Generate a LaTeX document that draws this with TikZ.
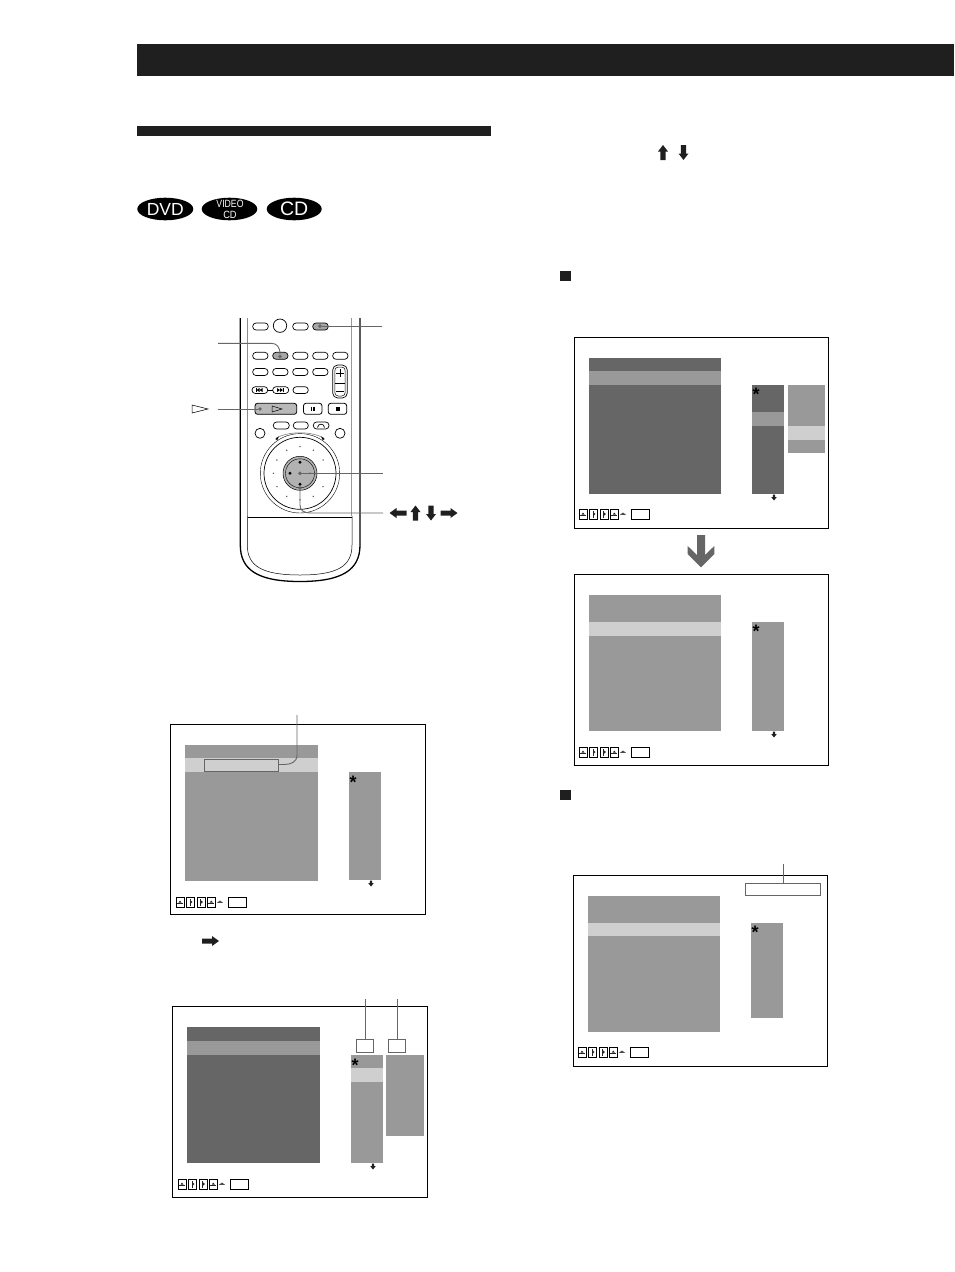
\documentclass[tikz,border=0pt]{standalone}
\usepackage{fontspec}
\usepackage{graphicx}
\setmainfont{Liberation Sans}
\begin{document}
\begin{tikzpicture}[x=1pt,y=-1pt,
  btn/.style={draw=black,line width=.7pt,fill=white,rounded corners=3.3pt},
  keybox/.style={draw=black,line width=.8pt,fill=white,rounded corners=2.5pt},
  leader/.style={draw=black!60,line width=.9pt},
  dotm/.style={circle,fill=black!60,inner sep=1.4pt},
  frm/.style={draw=black,line width=1pt,fill=white},
  smbox/.style={draw=black,line width=.7pt,fill=white},
  tiny/.style={circle,fill=black!70,inner sep=.55pt},
  asterisk/.style={font=\bfseries\fontsize{18}{18}\selectfont,inner sep=0,anchor=base},
  callbox/.style={draw=black!60,line width=1pt,fill=white,inner sep=0}]
\useasboundingbox (0,0) rectangle (954,1272);
\fill[black!88] (137,44) rectangle (954,76);
\fill[black!88] (137,126) rectangle (491,136);
% discs
\fill[black] (165.3,209) ellipse (28 and 11.3);
\node[text=white,font=\fontsize{17.5}{17.5}\selectfont,inner sep=0] (d1) at (165.3,209) {DVD};
\fill[black] (229.5,209) ellipse (27.8 and 11.3);
\node[text=white,font=\fontsize{10.5}{11}\selectfont,align=center,inner sep=0] (d2) at (230,209.5) {\scalebox{.83}[1]{VIDEO}\\\scalebox{.88}[1]{CD}};
\fill[black] (294.2,209) ellipse (27.5 and 11.3);
\node[text=white,font=\fontsize{19.5}{19.5}\selectfont,inner sep=0] (d3) at (294.2,209) {CD};
% remote body
\draw[line width=1.3pt] (240.3,318) -- (240.3,545) .. controls (240.3,570) and (258,581.5) .. (300,581.5) .. controls (342,581.5) and (360,570) .. (360,545) -- (360,318);
\draw[black!45,line width=.5pt] (247.3,318) -- (247.3,516);
\draw[line width=.5pt] (247.3,516) -- (247.3,545) .. controls (247.3,566) and (262,575) .. (300,575) .. controls (338,575) and (352,566) .. (352,545) -- (352,516);
\draw[black!40,line width=.6pt] (351.7,318) -- (351.7,516);
\draw[line width=.8pt] (247.5,517) -- (352,517);
% buttons row 1
\draw[btn] (252.7,323) rectangle (268.3,330);
\draw[btn] (280,325.7) circle (6.7);
\draw[btn] (292.7,323) rectangle (308.3,330);
\draw[btn,fill=black!35] (312.7,323) rectangle (328.3,330);
% row 2
\foreach \a/\f in {252.7/white,272.7/black!35,292.7/white,312.7/white,332.7/white}
  \draw[btn,fill=\f] (\a,352.3) rectangle +(15.3,7);
% row 3
\foreach \a in {252.7,272.7,292.7,312.7}
  \draw[btn] (\a,368.5) rectangle +(15.3,7);
\draw[btn,rounded corners=5pt] (332.7,365) rectangle (347.3,398);
\draw[line width=.5pt,rounded corners=3.5pt] (334.8,367) rectangle (345.2,396);
\draw[line width=.6pt] (334.8,383) -- (345.2,383);
\draw[line width=.9pt] (336,373) -- (344,373) (340,369) -- (340,377);
\draw[line width=.9pt] (336,391) -- (344,391);
% row 4
\draw[btn] (252,386.7) rectangle (267.7,393.5);
\draw[btn] (272.7,386.7) rectangle (288.7,393.5);
\draw[btn] (293,386.7) rectangle (308.3,393.5);
\draw[line width=.6pt] (267.7,390) -- (272.7,390);
\fill (256.5,390) -- +(3,-2) -- +(3,2) -- cycle; \fill (259.5,390) -- +(3,-2) -- +(3,2) -- cycle;
\fill (256,388) rectangle (256.8,392);
\fill (277,388) -- +(3,2) -- +(0,4) -- cycle; \fill (280,388) -- +(3,2) -- +(0,4) -- cycle;
\fill (283,388) rectangle (283.8,392);
% play row
\draw[keybox,fill=black!28] (255,403.3) rectangle (296.7,414.3);
\draw[line width=.5pt] (272,406) -- (282,409) -- (272,412) -- cycle;
\draw[keybox] (303.5,403.3) rectangle (322,414.3);
\draw[keybox] (328.3,403.3) rectangle (346.7,414.3);
\fill (311,407) rectangle (312.2,411); \fill (313.4,407) rectangle (314.6,411);
\fill (335.5,407) rectangle (339.5,411);
% row 5
\draw[btn] (273.3,422) rectangle (289.3,429);
\draw[btn] (293.3,422) rectangle (308.3,429);
\draw[btn] (313.3,422) rectangle (329,429);
\draw[line width=.7pt] (317.5,427.5) .. controls (318,423) and (324,423) .. (324.5,427.5);
\draw[btn] (260,433.3) circle (5);
\draw[btn] (340,433.3) circle (5);
% wheel
\draw[line width=.4pt] (300,473.3) circle (39.7);
\draw[line width=.7pt] (300,473.3) circle (36);
\draw[black!55,line width=.5pt] (276,438) .. controls (290,431) and (310,431) .. (324,438);
\fill (275.3,439) -- +(3.6,-2.6) -- +(2,1.2) -- cycle;
\fill (324.7,439) -- +(-3.6,-2.6) -- +(-2,1.2) -- cycle;
\foreach \ang in {30,60,90,120,150,180,210,240,270,300,330}
  \node[tiny] (w\ang) at ({300+26.6*cos(\ang)},{473.3-26.6*sin(\ang)}) {};
\draw[line width=.5pt,fill=black!30] (300,473.3) circle (17);
\draw[line width=.4pt] (300,473.3) circle (14.5);
\foreach \dx/\dy in {0/-11,0/11,-10/0}
  \fill (300+\dx,473.3+\dy) circle (1.6);
\fill[black!45] (310,473.3) circle (1.4);
% leaders
\node[dotm] (p1) at (320,326.2) {};
\coordinate (e1) at (382,326.2);
\draw[leader] (p1) -- (e1);
\node[dotm] (p2) at (280,356.5) {};
\coordinate (e2) at (218,343.3);
\draw[leader] (e2) -- (271,343.3) .. controls (277,343.3) and (280,347) .. (p2);
\node[dotm] (p3) at (260,409) {};
\coordinate (e3) at (218,409);
\draw[leader] (e3) -- (p3);
\node[dotm] (p4) at (300,473.3) {};
\coordinate (e4) at (383,473.3);
\draw[leader] (p4) -- (e4);
\node[dotm] (p5) at (300,488) {};
\coordinate (e5) at (383,513);
\draw[leader] (p5) -- (300,505) .. controls (300,511) and (304,513) .. (312,513) -- (e5);
% play glyph
\draw[line width=.5pt] (192,405) -- (208,409) -- (192,413) -- cycle;
% arrows
\def\arrR#1#2{\fill[black!88,shift={(#1,#2)}] (-8.5,-2.5) -- (1.5,-2.5) -- (1.5,-5) -- (8.5,0) -- (1.5,5) -- (1.5,2.5) -- (-8.5,2.5) -- cycle;}
\def\arrL#1#2{\fill[black!88,shift={(#1,#2)}] (8.5,-2.5) -- (-1.5,-2.5) -- (-1.5,-5) -- (-8.5,0) -- (-1.5,5) -- (-1.5,2.5) -- (8.5,2.5) -- cycle;}
\def\arrU#1#2{\fill[black!88,shift={(#1,#2)}] (-2.6,7.5) -- (-2.6,-1) -- (-5,-1) -- (0,-7.5) -- (5,-1) -- (2.6,-1) -- (2.6,7.5) -- cycle;}
\def\arrD#1#2{\fill[black!88,shift={(#1,#2)}] (-2.6,-7.5) -- (-2.6,1) -- (-5,1) -- (0,7.5) -- (5,1) -- (2.6,1) -- (2.6,-7.5) -- cycle;}
\arrL{398}{513} \arrU{415.5}{513} \arrD{431}{513} \arrR{449}{513}
\arrU{663}{152.5} \arrD{683.5}{152.5}
\arrR{210.5}{941}
% big down arrow
\fill[black!60] (697,535) -- (705,535) -- (705,555) -- (714.3,546) -- (714.3,554) -- (701,567.3) -- (687.7,554) -- (687.7,546) -- (697,555) -- cycle;
% black squares
\fill[black!88] (560,270.5) rectangle (570.5,281);
\fill[black!88] (560,789.5) rectangle (570.5,800);
% screen bottom strip
\def\strip#1#2{%
  \begin{scope}[shift={(#1,#2)}]
  \foreach \a in {0,31.3}{\draw[smbox] (\a,-5) rectangle +(8,10);\fill[black!85] (\a+1,.5) rectangle +(6,.9);\fill[black!85] (\a+2.5,.5) -- (\a+4,-1.5) -- (\a+5.5,.5) -- cycle;}
  \foreach \a in {10.5,21}{\draw[smbox] (\a,-5) rectangle +(8,10);\fill[black!85] (\a+3.2,-3.5) rectangle +(1,7);\fill[black!85] (\a+4.2,-1.5) -- (\a+6,0) -- (\a+4.2,1.5) -- cycle;}
  \fill[black!70] (41,.8) -- (44,-1.5) -- (47,.8) -- cycle;
  \draw[smbox] (52.8,-5) rectangle (70.5,5);
  \end{scope}}
\def\darr#1#2{\fill[black!88] (#1-1.2,#2-3.5) rectangle (#1+1.2,#2-1) (#1-2.8,#2-1) -- (#1+2.8,#2-1) -- (#1,#2+2.5) -- cycle;}
% S1
\draw[frm] (170.7,724.7) rectangle (425.5,914.7);
\fill[black!40] (185,745) rectangle (318,758);
\fill[black!19] (185,758) rectangle (318,772);
\fill[black!40] (185,772) rectangle (318,881);
\fill[black!40] (349,772) rectangle (381,880);
\node[asterisk] (s1star) at (353,788) {*};
\darr{371}{884}
\strip{176}{902}
\draw[draw=black!60,line width=.9pt,fill=black!19] (204,759) rectangle (278,771);
\coordinate (t1) at (297,715);
\node[inner sep=0,minimum size=0] (b1) at (278,764.5) {};
\draw[leader] (t1) -- (297,755) .. controls (297,762) and (291,764.5) .. (284,764.5) -- (b1);
% S2
\draw[frm] (172.7,1006.7) rectangle (427.5,1197);
\fill[black!60] (187,1027) rectangle (320,1041);
\fill[black!40] (187,1041) rectangle (320,1055);
\fill[black!60] (187,1055) rectangle (320,1163);
\fill[black!40] (351,1055) rectangle (383,1068);
\fill[black!19] (351,1068) rectangle (383,1082);
\fill[black!40] (351,1082) rectangle (383,1163);
\fill[black!40] (386,1055) rectangle (424,1136);
\node[asterisk] (s2star) at (355,1071) {*};
\darr{373}{1167}
\strip{178}{1184}
\node[callbox,minimum width=17pt,minimum height=13pt] (n1) at (365,1046) {};
\node[callbox,minimum width=17pt,minimum height=13pt] (n2) at (397,1046) {};
\coordinate (t2) at (365,999);
\coordinate (t3) at (397,999);
\draw[leader] (t2) -- (n1);
\draw[leader] (t3) -- (n2);
% S3
\draw[frm] (574.5,337.7) rectangle (828.7,528.3);
\fill[black!60] (589,358) rectangle (721,371);
\fill[black!40] (589,371) rectangle (721,385);
\fill[black!60] (589,385) rectangle (721,494);
\fill[black!60] (752,385) rectangle (784,412);
\fill[black!40] (752,412) rectangle (784,426);
\fill[black!60] (752,426) rectangle (784,494);
\fill[black!40] (788,385) rectangle (825,426);
\fill[black!19] (788,426) rectangle (825,440);
\fill[black!40] (788,440) rectangle (825,453);
\node[asterisk] (s3star) at (756,400.5) {*};
\darr{774}{498}
\strip{579}{514}
% S4
\draw[frm] (574.5,574.7) rectangle (828.7,765.3);
\fill[black!40] (589,595) rectangle (721,622);
\fill[black!19] (589,622) rectangle (721,636);
\fill[black!40] (589,636) rectangle (721,731);
\fill[black!40] (752,622) rectangle (784,731);
\node[asterisk] (s4star) at (756,637.5) {*};
\darr{774}{735}
\strip{579}{752}
% S5
\draw[frm] (573.5,875.7) rectangle (827.7,1066.3);
\fill[black!40] (588,896) rectangle (720,923);
\fill[black!19] (588,923) rectangle (720,936);
\fill[black!40] (588,936) rectangle (720,1032);
\fill[black!40] (751,923) rectangle (783,1018);
\node[asterisk] (s5star) at (755,938.5) {*};
\strip{578}{1052}
\node[callbox,minimum width=75pt,minimum height=12pt] (n5) at (783,889) {};
\coordinate (t5) at (783,864);
\draw[leader] (t5) -- (n5);
\end{tikzpicture}
\end{document}
